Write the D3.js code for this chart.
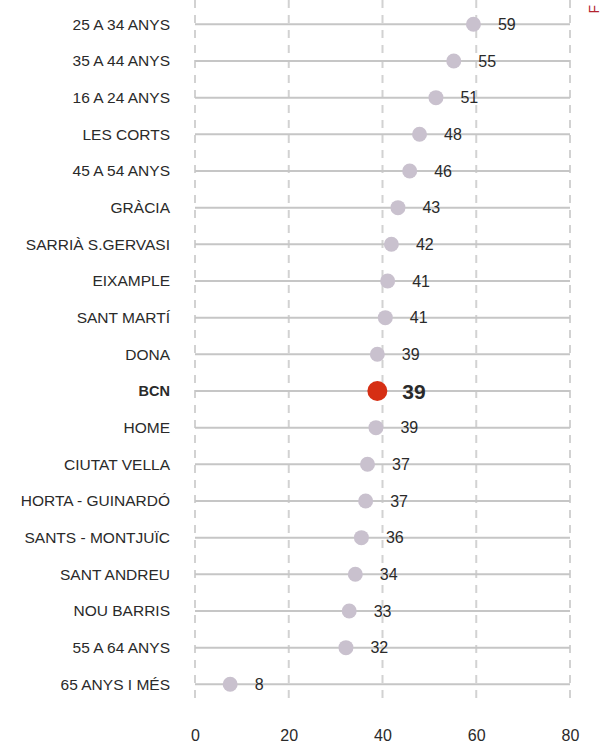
<!DOCTYPE html>
<html>
<head>
<meta charset="utf-8">
<script src="https://cdn.jsdelivr.net/npm/d3@7"></script>
<style>
  body { margin: 0; background: #fff; }
  svg { display: block; font-family: "Liberation Sans", Arial, sans-serif; }
</style>
</head>
<body>
<div id="chart"></div>
<script>
var categories = ['25 A 34 ANYS', '35 A 44 ANYS', '16 A 24 ANYS', 'LES CORTS', '45 A 54 ANYS',
  'GRÀCIA', 'SARRIÀ S.GERVASI', 'EIXAMPLE', 'SANT MARTÍ', 'DONA', 'BCN', 'HOME',
  'CIUTAT VELLA', 'HORTA - GUINARDÓ', 'SANTS - MONTJUÏC', 'SANT ANDREU', 'NOU BARRIS',
  '55 A 64 ANYS', '65 ANYS I MÉS'];
var values = [59.4, 55.2, 51.4, 47.9, 45.8, 43.3, 41.9, 41.1, 40.6, 38.9, 38.9, 38.6,
  36.8, 36.4, 35.5, 34.2, 32.9, 32.2, 7.5];
var value_labels = ['59', '55', '51', '48', '46', '43', '42', '41', '41', '39', '39', '39',
  '37', '37', '36', '34', '33', '32', '8'];
var x_ticks = [0, 20, 40, 60, 80];
var highlight = 'BCN';

var width = 600, height = 746;
var color_dot = '#c9c1ce';
var color_highlight = '#d62f14';
var color_text = '#2a2a2a';

var data = categories.map(function(c, i) {
  return {name: c, value: values[i], label: value_labels[i]};
});

var svg = d3.select('#chart')
  .append('svg')
    .attr('width', width)
    .attr('height', height);

var x_scale = d3.scaleLinear()
  .domain([0, 80])
  .range([195, 570]);

var y_scale = d3.scalePoint()
  .domain(categories)
  .range([24.3, 684.3]);

// vertical dashed grid
svg.append('g')
  .selectAll('line')
  .data(x_ticks)
  .enter()
  .append('line')
    .attr('x1', function(d) { return x_scale(d); })
    .attr('x2', function(d) { return x_scale(d); })
    .attr('y1', 0)
    .attr('y2', 698)
    .attr('stroke', '#d2d2d2')
    .attr('stroke-width', 2)
    .attr('stroke-dasharray', '8,7');

// horizontal row lines
svg.append('g')
  .selectAll('line')
  .data(data)
  .enter()
  .append('line')
    .attr('x1', x_scale(0))
    .attr('x2', x_scale(80))
    .attr('y1', function(d) { return y_scale(d.name); })
    .attr('y2', function(d) { return y_scale(d.name); })
    .attr('stroke', '#c6c6c6')
    .attr('stroke-width', 2);

// x axis
var x_axis = d3.axisBottom(x_scale).tickValues(x_ticks).tickSize(0).tickPadding(0);
svg.append('g')
  .attr('class', 'x-axis')
  .attr('transform', 'translate(0,730)')
  .call(x_axis)
  .call(function(g) { g.select('.domain').remove(); })
  .selectAll('text')
    .attr('dy', '0.71em')
    .style('font-family', '"Liberation Sans", Arial, sans-serif')
    .style('font-size', '16px')
    .attr('fill', color_text);

// y axis labels
var y_axis = d3.axisLeft(y_scale).tickSize(0).tickPadding(0);
svg.append('g')
  .attr('class', 'y-axis')
  .attr('transform', 'translate(170,0)')
  .call(y_axis)
  .call(function(g) { g.select('.domain').remove(); })
  .selectAll('text')
    .style('font-family', '"Liberation Sans", Arial, sans-serif')
    .style('font-size', function(d) { return d === highlight ? '14.5px' : '15.5px'; })
    .style('font-weight', function(d) { return d === highlight ? 'bold' : 'normal'; })
    .attr('fill', color_text);

// dots
svg.append('g')
  .selectAll('circle')
  .data(data)
  .enter()
  .append('circle')
    .attr('cx', function(d) { return x_scale(d.value); })
    .attr('cy', function(d) { return y_scale(d.name); })
    .attr('r', function(d) { return d.name === highlight ? 10 : 7.5; })
    .attr('fill', function(d) { return d.name === highlight ? color_highlight : color_dot; });

// value labels
svg.append('g')
  .selectAll('text')
  .data(data)
  .enter()
  .append('text')
    .attr('x', function(d) { return x_scale(d.value) + (d.name === highlight ? 25 : 24.5); })
    .attr('y', function(d) { return y_scale(d.name); })
    .attr('dy', '0.36em')
    .style('font-size', function(d) { return d.name === highlight ? '21px' : '16px'; })
    .style('font-weight', function(d) { return d.name === highlight ? 'bold' : 'normal'; })
    .attr('fill', color_text)
    .text(function(d) { return d.label; });

// the only visible letter of the rotated source note at the top right
svg.append('text')
  .attr('transform', 'translate(598.5,13.5)rotate(-90)')
  .style('font-size', '14px')
  .attr('fill', '#b3242f')
  .text('F');
</script>
</body>
</html>
